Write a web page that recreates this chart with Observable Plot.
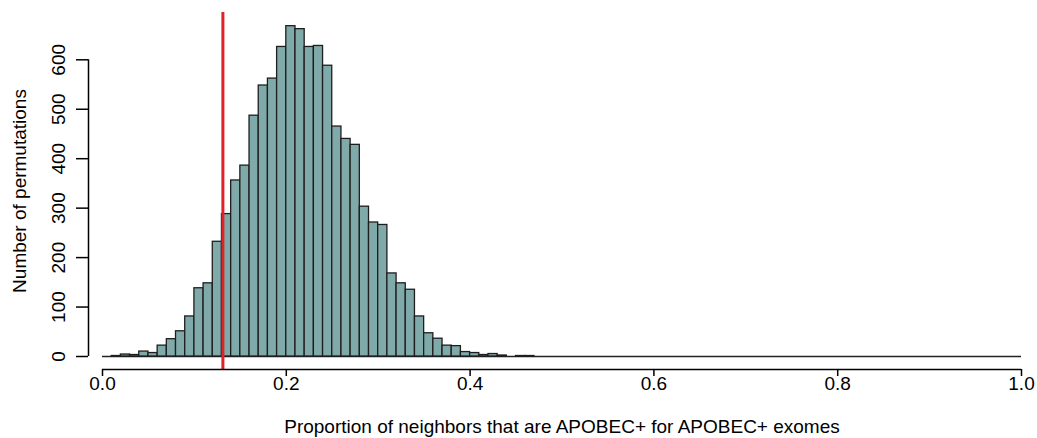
<!DOCTYPE html>
<html><head><meta charset="utf-8">
<script src="https://cdn.jsdelivr.net/npm/d3@7"></script>
<script src="https://cdn.jsdelivr.net/npm/@observablehq/plot@0.6"></script>
<style>html,body{margin:0;padding:0;background:#fff} svg{display:block}</style>
</head><body><div id="chart"></div>
<script>
// Histogram bins (lower edges, width 0.01) and counts
const binStart = [0.00,0.01,0.02,0.03,0.04,0.05,0.06,0.07,0.08,0.09,
                  0.10,0.11,0.12,0.13,0.14,0.15,0.16,0.17,0.18,0.19,
                  0.20,0.21,0.22,0.23,0.24,0.25,0.26,0.27,0.28,0.29,
                  0.30,0.31,0.32,0.33,0.34,0.35,0.36,0.37,0.38,0.39,
                  0.40,0.41,0.42,0.43,0.44,0.45,0.46];
const counts   = [0,1,4,3,10,7,22,35,51,81,
                  138,148,232,288,356,386,487,548,562,626,
                  668,662,626,628,588,465,440,428,303,271,
                  266,168,148,135,81,47,36,22,21,9,
                  7,3,5,2,0,1,1];
const binWidth = 0.01;
const observed = 0.131;
const xTicks = [0.0,0.2,0.4,0.6,0.8,1.0];
const yTicks = [0,100,200,300,400,500,600];
const xLabel = "Proportion of neighbors that are APOBEC+ for APOBEC+ exomes";
const yLabel = "Number of permutations";

const bins = binStart.map((lo,i)=>({lo, hi: lo + binWidth, count: counts[i]})).filter(d => d.count > 0);

const font = "'Liberation Sans', Arial, Helvetica, sans-serif";
const chart = Plot.plot({
  width: 1037, height: 438,
  marginLeft: 88, marginRight: 2, marginTop: 12, marginBottom: 69,
  style: {fontFamily: font, fontSize: "19px", background: "#fff", color: "#000"},
  x: {domain: [0, 1], range: [102, 1021]},
  y: {domain: [0, 600], range: [356, 59.3]},
  marks: [
    Plot.ruleY([0], {x1: 0, x2: 1, stroke: "#222", strokeWidth: 1.3}),
    Plot.rect(bins, {x1: "lo", x2: "hi", y1: 0, y2: "count", fill: "#80a9a9", stroke: "#1e1e1e", strokeWidth: 1.3}),
    Plot.ruleX([observed], {y1: -26.3, y2: 695.7, stroke: "#e0232b", strokeWidth: 3}),
    Plot.ruleY([-26.3], {x1: 0, x2: 1, stroke: "#000", strokeWidth: 1.5}),
    Plot.axisX({ticks: xTicks, tickFormat: d3.format(".1f"), tickSize: 7, tickPadding: 0, label: null, strokeWidth: 1.5, fontSize: 19}),
    Plot.axisY({ticks: yTicks, tickFormat: d3.format("d"), tickSize: 12, tickRotate: -90, tickPadding: 12, label: null, strokeWidth: 1.5, fontSize: 19}),
    Plot.ruleX([-0.01523], {y1: 0, y2: 600, stroke: "#000", strokeWidth: 1.5}),
    Plot.text([xLabel], {frameAnchor: "bottom", dy: 63, fontSize: 19, fill: "#000"}),
    Plot.text([yLabel], {frameAnchor: "left", dx: -69, rotate: -90, textAnchor: "middle", fontSize: 19, fill: "#000"})
  ]
});
document.getElementById("chart").appendChild(chart);
</script>
</body></html>
